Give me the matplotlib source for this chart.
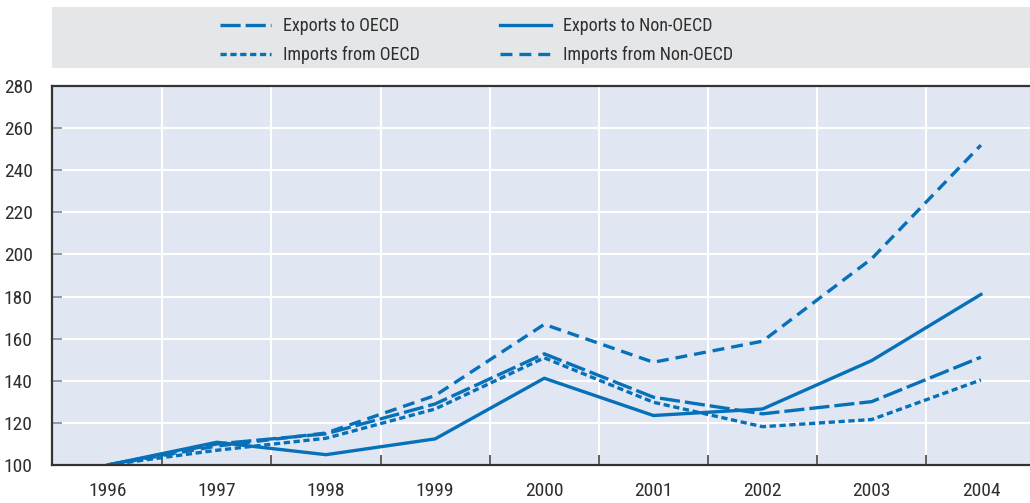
import numpy as np
import matplotlib
matplotlib.use("Agg")
import matplotlib.pyplot as plt
from matplotlib import font_manager
from matplotlib.patches import Rectangle
from matplotlib.ticker import FixedLocator

# Dữ liệu (chỉ số, 1996 = 100)
years = [1996, 1997, 1998, 1999, 2000, 2001, 2002, 2003, 2004]
exports_oecd = [100, 110, 114.8, 129, 152.8, 132.2, 124.3, 130.1, 151.2]
exports_non_oecd = [100, 110.8, 104.9, 112.4, 141.2, 123.5, 126.6, 149.6, 181]
imports_oecd = [100, 107, 112.7, 126.6, 150.9, 129.8, 118.2, 121.6, 140.4]
imports_non_oecd = [100, 109, 115.2, 133, 166.8, 148.8, 158.8, 198, 251.9]
y_ticks = [100, 120, 140, 160, 180, 200, 220, 240, 260, 280]

# Tìm font hẹp nếu có
names = {f.name for f in font_manager.fontManager.ttflist}
fams = [n for n in ['Roboto Condensed', 'Liberation Sans Narrow', 'Liberation Sans']
        if n in names]
plt.rcParams['font.family'] = fams + ['DejaVu Sans']
plt.rcParams['lines.scale_dashes'] = False

BLUE = '#0670b8'
TXT = '#2e2e2e'
W, H = 1030, 503

fig = plt.figure(figsize=(W / 100, H / 100), dpi=100)

# Dải nền xám của chú giải
fig.patches.append(Rectangle((52 / W, 1 - 68 / H), 978 / W, 61 / H,
                             transform=fig.transFigure, facecolor='#e5e6e8',
                             edgecolor='none', zorder=0))

ax = fig.add_axes([52 / W, 1 - 465 / H, 978 / W, 379 / H])
ax.set_facecolor('#e1e6f3')

lw = 2.4
l1, = ax.plot(years, exports_oecd, color=BLUE, lw=lw, linestyle=(0, (14.5, 3.6)),
              label='Exports to OECD')
l2, = ax.plot(years, exports_non_oecd, color=BLUE, lw=lw, linestyle='-',
              label='Exports to Non-OECD')
l3, = ax.plot(years, imports_oecd, color=BLUE, lw=lw, linestyle=(0, (4.5, 2.6)),
              label='Imports from OECD')
l4, = ax.plot(years, imports_non_oecd, color=BLUE, lw=lw, linestyle=(0, (8.6, 5.0)),
              label='Imports from Non-OECD')

ax.set_xlim(1995.49, 2004.45)
ax.set_ylim(100, 280)

ax.set_xticks(years)
ax.set_xticklabels([str(y) for y in years])
ax.xaxis.set_minor_locator(FixedLocator([y + 0.5 for y in years[:-1]]))
ax.set_yticks(y_ticks)

ax.grid(False)
ax.grid(True, axis='y', which='major', color='white', lw=1.5)
ax.grid(True, axis='x', which='minor', color='white', lw=1.5)
ax.set_axisbelow(True)

ax.tick_params(axis='x', which='major', length=0, pad=12, labelsize=14, labelcolor=TXT)
ax.tick_params(axis='x', which='minor', direction='in', length=7, width=1.2, color='#444444')
ax.tick_params(axis='y', which='major', direction='in', length=7, width=1.2,
               color='#888888', pad=14, labelsize=14, labelcolor=TXT)

for s in ['left', 'bottom', 'top']:
    ax.spines[s].set_color('#333333')
    ax.spines[s].set_linewidth(1.6)
ax.spines['right'].set_visible(False)

leg_kw = dict(loc='upper left', frameon=False, fontsize=13, handlelength=2.8,
              handletextpad=0.7, labelspacing=0.6, borderpad=0, borderaxespad=0)
lg1 = fig.legend(handles=[l1, l3], bbox_to_anchor=(220 / W, 1 - 17 / H), **leg_kw)
lg2 = fig.legend(handles=[l2, l4], bbox_to_anchor=(500 / W, 1 - 17 / H), **leg_kw)
for lg in (lg1, lg2):
    for t in lg.get_texts():
        t.set_color(TXT)

fig.savefig('out.png', dpi=100)
